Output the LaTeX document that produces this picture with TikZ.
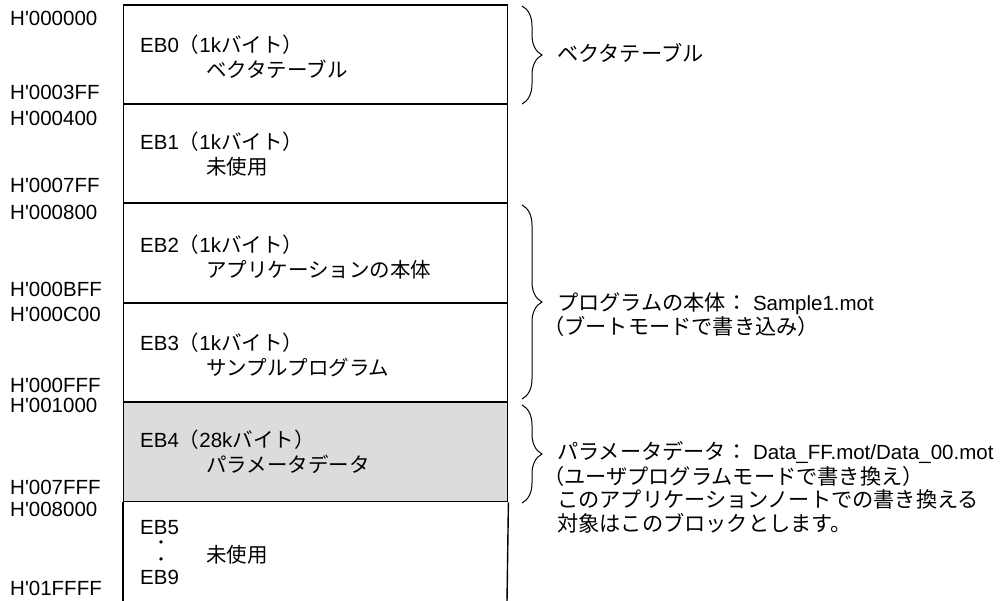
\documentclass[tikz,border=0pt]{standalone}
\usepackage{fontspec}
\setmainfont{Liberation Sans}
\newfontfamily\jp{Noto Sans CJK JP}
\usetikzlibrary{decorations.pathreplacing}
\newcommand\J[1]{{\jp #1}}
\newcommand\JR[1]{{\jp\fontsize{21.2}{24}\selectfont #1}}
\newcommand\q{\textquotesingle}
\begin{document}
\begin{tikzpicture}[x=1pt,y=-1pt,
  every node/.style={inner sep=0pt, font=\fontsize{20.5}{24}\selectfont},
  lbl/.style={anchor=base west},
  dotc/.style={anchor=base, font=\jp\fontsize{16}{16}\selectfont},
  blk/.style={draw, line width=1.4pt, minimum width=384pt, minimum height=99pt, anchor=north west},
  brc/.style={decorate, decoration={brace, amplitude=20pt}, line width=1pt}]
\useasboundingbox (0,0) rectangle (1005,601);

% blocks
\node[blk] (eb0) at (123,4.5) {};
\node[blk] (eb1) at (123,103.5) {};
\node[blk] (eb2) at (123,203) {};
\node[blk] (eb3) at (123,302.5) {};
\node[blk, fill={rgb,255:red,220;green,220;blue,220}] (eb4) at (123,402) {};
\coordinate (bl) at (123,602);
\coordinate (br) at (507,602);
\draw[line width=1.4pt] (eb4.south west) -- (bl);
\draw[line width=1.4pt] (eb4.south east) -- (br);

% addresses
\node[lbl] (a0) at (10,26) {H\q000000};
\node[lbl] (a1) at (10,100) {H\q0003FF};
\node[lbl] (a2) at (10,126) {H\q000400};
\node[lbl] (a3) at (10,193) {H\q0007FF};
\node[lbl] (a4) at (10,220) {H\q000800};
\node[lbl] (a5) at (10,297) {H\q000BFF};
\node[lbl] (a6) at (10,322) {H\q000C00};
\node[lbl] (a7) at (10,393) {H\q000FFF};
\node[lbl] (a8) at (10,413) {H\q001000};
\node[lbl] (a9) at (10,495) {H\q007FFF};
\node[lbl] (a10) at (10,517) {H\q008000};
\node[lbl] (a11) at (10,595) {H\q01FFFF};

% block texts
\node[lbl] (t0a) at (140,53) {EB0\J{（}1k\J{バイト）}};
\node[lbl] (t0b) at (206,78) {\J{ベクタテーブル}};
\node[lbl] (t1a) at (140,150) {EB1\J{（}1k\J{バイト）}};
\node[lbl] (t1b) at (206,175) {\J{未使用}};
\node[lbl] (t2a) at (140,253) {EB2\J{（}1k\J{バイト）}};
\node[lbl] (t2b) at (206,278) {\J{アプリケーションの本体}};
\node[lbl] (t3a) at (140,351) {EB3\J{（}1k\J{バイト）}};
\node[lbl] (t3b) at (206,376) {\J{サンプルプログラム}};
\node[lbl] (t4a) at (140,448) {EB4\J{（}28k\J{バイト）}};
\node[lbl] (t4b) at (206,473) {\J{パラメータデータ}};
\node[lbl] (t5a) at (140,535) {EB5};
\node[dotc] (d1) at (161,549) {・};
\node[dotc] (d2) at (161,566) {・};
\node[lbl] (t5b) at (206,563) {\J{未使用}};
\node[lbl] (t5c) at (140,585) {EB9};

% braces
\coordinate (b1t) at (522,6);
\coordinate (b1b) at (522,104);
\coordinate (b2t) at (522,205);
\coordinate (b2b) at (522,399);
\coordinate (b3t) at (522,405);
\coordinate (b3b) at (522,503);
\draw[brc] (b1t) -- (b1b);
\draw[brc] (b2t) -- (b2b);
\draw[brc] (b3t) -- (b3b);

% right texts
\node[lbl] (r1) at (557,62) {\JR{ベクタテーブル}};
\node[lbl] (r2a) at (557,311) {\JR{プログラムの本体：} Sample1.mot};
\node[lbl] (r2b) at (543,335) {\JR{（ブートモードで書き込み）}};
\node[lbl] (r3a) at (557,460) {\JR{パラメータデータ：} Data\_FF.mot/Data\_00.mot};
\node[lbl] (r3b) at (543,485) {\JR{（ユーザプログラムモードで書き換え）}};
\node[lbl] (r3c) at (557,508) {\JR{このアプリケーションノートでの書き換える}};
\node[lbl] (r3d) at (557,532) {\JR{対象はこのブロックとします。}};
\end{tikzpicture}
\end{document}
